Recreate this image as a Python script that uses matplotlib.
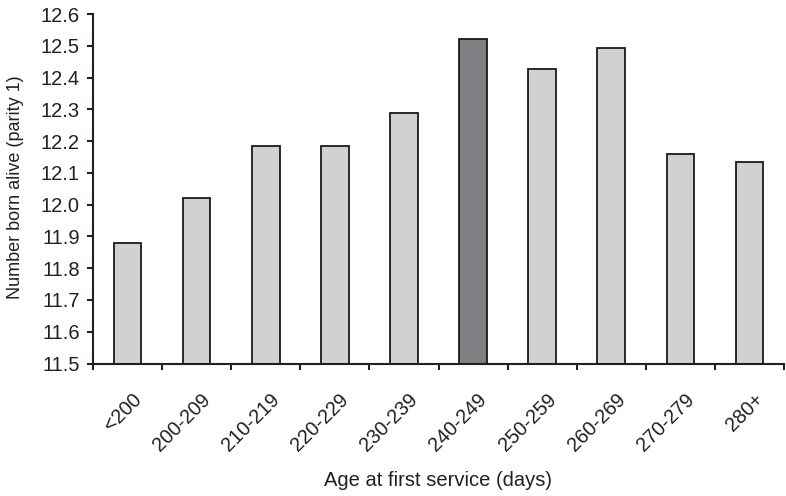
import matplotlib
matplotlib.use("Agg")
import matplotlib.pyplot as plt
from matplotlib.transforms import ScaledTranslation

plt.rcParams['font.family'] = ['Liberation Sans', 'DejaVu Sans']

categories = ['<200', '200-209', '210-219', '220-229', '230-239',
              '240-249', '250-259', '260-269', '270-279', '280+']
values = [11.88, 12.022, 12.185, 12.185, 12.289, 12.521, 12.427, 12.492, 12.158, 12.135]
highlight = '240-249'
y_ticks = [11.5, 11.6, 11.7, 11.8, 11.9, 12.0, 12.1, 12.2, 12.3, 12.4, 12.5, 12.6]

TXT = '#231f20'
fig = plt.figure(figsize=(7.86, 4.96), dpi=100)
ax = fig.add_axes([93/786, 1 - 363.5/496, (784-93)/786, (363.5-14)/496])

colors = ['#7f8084' if c == highlight else '#d0d1d3' for c in categories]
x = list(range(len(categories)))
base = y_ticks[0]
ax.bar(x, [v - base for v in values], bottom=base, width=0.4, color=colors,
       edgecolor='#1a1a1a', linewidth=1.3, zorder=2)

ax.set_xlim(-0.5, len(categories) - 0.5)
ax.set_ylim(y_ticks[0], y_ticks[-1])
ax.set_yticks(y_ticks)
ax.set_yticklabels([f'{t:.1f}' for t in y_ticks], fontsize=14.5, color=TXT)

ax.set_xticks([i + 0.5 for i in range(-1, len(categories))], minor=False)
ax.set_xticklabels([])
ax.set_xticks(x, minor=True)
ax.set_xticklabels(categories, minor=True, rotation=45, ha='right', va='center',
                   rotation_mode='anchor', fontsize=14.3, color=TXT)
ax.tick_params(axis='x', which='minor', length=0, pad=0)
ax.tick_params(axis='x', which='major', length=4.5, width=1.5, direction='out', color=TXT)
ax.tick_params(axis='y', length=4.5, width=1.5, direction='out', color=TXT, pad=5)

offset = ScaledTranslation(11/100, -33/100, fig.dpi_scale_trans)
for lbl in ax.get_xticklabels(minor=True):
    lbl.set_transform(lbl.get_transform() + offset)

for s in ['top', 'right']:
    ax.spines[s].set_visible(False)
for s in ['left', 'bottom']:
    ax.spines[s].set_linewidth(1.5)
    ax.spines[s].set_color(TXT)

ax.set_xlabel('Age at first service (days)', fontsize=14.5, color=TXT, va='center')
ax.xaxis.set_label_coords(0.5, -(480 - 363.5) / 349.5)
ax.set_ylabel('Number born alive (parity 1)', fontsize=13, color=TXT, va='center')
ax.yaxis.set_label_coords(-(93 - 16) / 691, (363.5 - 187) / 349.5)

fig.savefig('out.png', dpi=100)
